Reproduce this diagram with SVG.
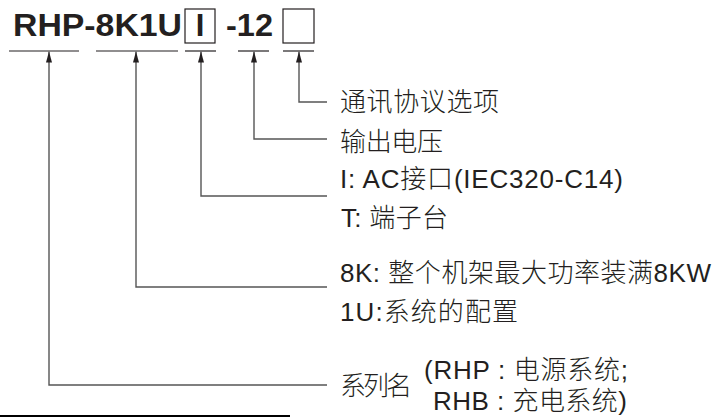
<svg xmlns="http://www.w3.org/2000/svg" width="728" height="417" viewBox="0 0 728 417">
  <style>
    .title { font-family: "Liberation Sans", Arial, sans-serif; font-weight: bold; font-size: 31px; fill: #231f20; }
    .lbl { font-family: "Liberation Sans", "Noto Sans CJK SC", sans-serif; font-size: 26px; font-weight: 300; fill: #231f20; }
    .ul { stroke: #231f20; stroke-width: 1.2; fill: none; }
    .box { stroke: #231f20; stroke-width: 1.2; fill: #ffffff; }
    .conn { stroke: #555555; stroke-width: 1.4; fill: none; marker-end: url(#arr); }
  </style>
  <defs>
    <marker id="arr" viewBox="0 0 11 6" markerWidth="11" markerHeight="6" refX="11" refY="3" orient="auto" markerUnits="userSpaceOnUse">
      <path d="M0,0 L11,3 L0,6 z" fill="#231f20"/>
    </marker>
  </defs>
  <rect width="728" height="417" fill="#ffffff"/>

  <g id="model-code">
    <text class="title" x="13" y="36" textLength="169" lengthAdjust="spacingAndGlyphs">RHP-8K1U</text>
    <rect class="box" x="185" y="9" width="30" height="34"/>
    <text class="title" x="200" y="36" text-anchor="middle">I</text>
    <text class="title" x="226" y="36" textLength="47" lengthAdjust="spacingAndGlyphs">-12</text>
    <rect class="box" x="283" y="9" width="31" height="34"/>
  </g>

  <g id="underlines">
    <line class="ul" x1="9" y1="51" x2="79" y2="51"/>
    <line class="ul" x1="96" y1="51" x2="178" y2="51"/>
    <line class="ul" x1="185" y1="51" x2="216" y2="51"/>
    <line class="ul" x1="238" y1="51" x2="269" y2="51"/>
    <line class="ul" x1="283" y1="51" x2="314" y2="51"/>
  </g>

  <g id="connectors">
    <path class="conn" d="M327,102 H299 V51.5"/>
    <path class="conn" d="M327,139 H254 V51.5"/>
    <path class="conn" d="M327,196 H201 V51.5"/>
    <path class="conn" d="M327,287 H136 V51.5"/>
    <path class="conn" d="M327,385 H49 V51.5"/>
  </g>

  <g id="node-protocol">
    <text class="lbl" x="340" y="111" textLength="159" lengthAdjust="spacing">通讯协议选项</text>
  </g>
  <g id="node-voltage">
    <text class="lbl" x="340" y="151" textLength="103" lengthAdjust="spacing">输出电压</text>
  </g>
  <g id="node-interface">
    <text class="lbl" x="340" y="188" textLength="283" lengthAdjust="spacing">I: AC接口(IEC320-C14)</text>
    <text class="lbl" x="341" y="227" textLength="107" lengthAdjust="spacing">T: 端子台</text>
  </g>
  <g id="node-power">
    <text class="lbl" x="340" y="282" textLength="371" lengthAdjust="spacing">8K: 整个机架最大功率装满8KW</text>
    <text class="lbl" x="340" y="321" textLength="178" lengthAdjust="spacing">1U:系统的配置</text>
  </g>
  <g id="node-series">
    <text class="lbl" x="340" y="395" textLength="72" lengthAdjust="spacing">系列名</text>
    <text class="lbl" x="424" y="379" textLength="204" lengthAdjust="spacing">(RHP : 电源系统;</text>
    <text class="lbl" x="433" y="410" textLength="194" lengthAdjust="spacing">RHB : 充电系统)</text>
  </g>

  <line x1="0" y1="416" x2="290" y2="416" stroke="#000000" stroke-width="2"/>
</svg>
